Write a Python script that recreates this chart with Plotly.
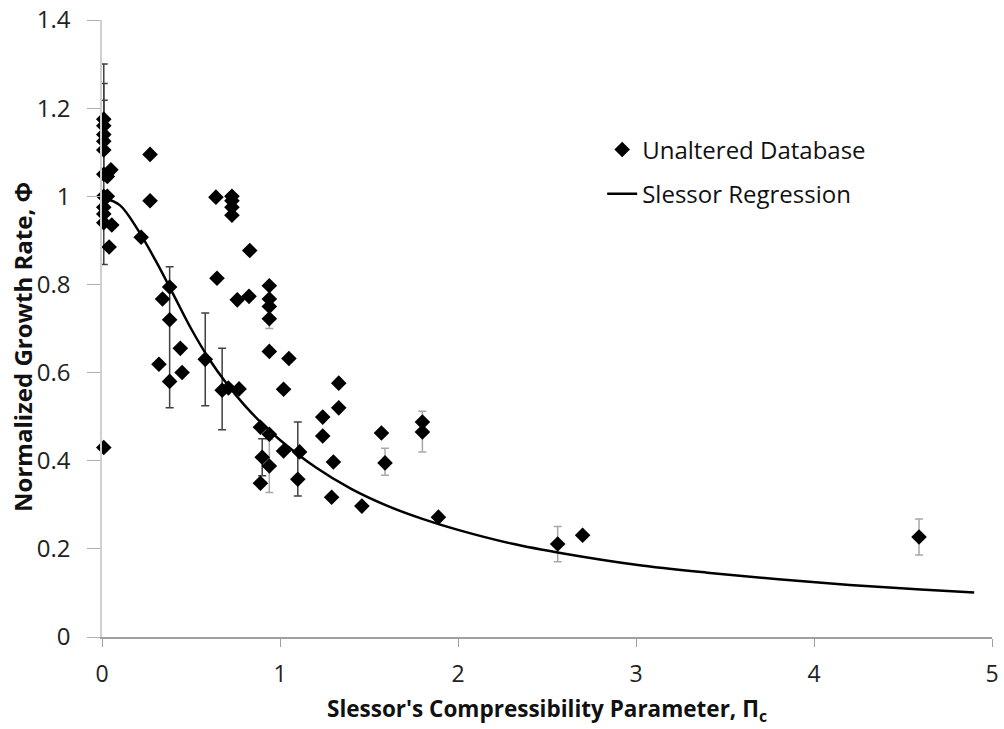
import plotly.graph_objects as go

# Scatter data (Unaltered Database)
pts_x = [0.01, 0.01, 0.01, 0.01, 0.01, 0.01, 0.03, 0.05, 0.01, 0.03, 0.01, 0.01, 0.01, 0.055, 0.04, 0.01,
         0.27, 0.27, 0.22,
         0.38, 0.34, 0.38, 0.32, 0.38, 0.44, 0.45,
         0.58, 0.675, 0.71, 0.77,
         0.64, 0.73, 0.73, 0.73, 0.73,
         0.83, 0.646, 0.76, 0.826,
         0.94, 0.94, 0.94, 0.94, 0.94,
         0.89, 0.94, 0.90, 0.94, 0.89,
         1.02, 1.05, 1.02, 1.11, 1.10,
         1.24, 1.24, 1.33, 1.33, 1.30, 1.29, 1.46,
         1.57, 1.59, 1.80, 1.80, 1.89,
         2.56, 2.70, 4.59]
pts_y = [1.175, 1.16, 1.14, 1.125, 1.105, 1.05, 1.045, 1.06, 1.0, 1.0, 0.975, 0.96, 0.94, 0.935, 0.885, 0.43,
         1.095, 0.99, 0.907,
         0.794, 0.767, 0.72, 0.619, 0.58, 0.655, 0.60,
         0.63, 0.56, 0.565, 0.563,
         0.998, 1.0, 0.99, 0.975, 0.957,
         0.877, 0.814, 0.765, 0.773,
         0.797, 0.767, 0.75, 0.722, 0.648,
         0.476, 0.46, 0.408, 0.388, 0.349,
         0.562, 0.632, 0.422, 0.42, 0.358,
         0.499, 0.456, 0.576, 0.52, 0.397, 0.317, 0.297,
         0.463, 0.395, 0.488, 0.465, 0.272,
         0.211, 0.231, 0.227]

# Error bars drawn in dark grey
eb_dark_x = [0.01, 0.01, 0.01, 0.38, 0.58, 0.675, 0.90, 1.10]
eb_dark_y = [1.05, 1.14, 1.175, 0.72, 0.63, 0.56, 0.408, 0.358]
eb_dark_plus = [0.25, 0.116, 0.043, 0.12, 0.105, 0.095, 0.042, 0.13]
eb_dark_minus = [0.205, 0.10, 0.04, 0.20, 0.105, 0.09, 0.042, 0.038]

# Error bars drawn in light grey
eb_light_x = [0.94, 0.94, 1.59, 1.80, 2.56, 4.59]
eb_light_y = [0.388, 0.722, 0.395, 0.465, 0.211, 0.227]
eb_light_plus = [0.06, 0.0, 0.033, 0.047, 0.04, 0.041]
eb_light_minus = [0.06, 0.022, 0.028, 0.045, 0.04, 0.041]

# Slessor Regression curve
reg_x = [0.02, 0.1, 0.2, 0.3, 0.4, 0.5, 0.6, 0.7, 0.8, 0.9, 1.0, 1.2, 1.4, 1.6, 1.8,
         2.0, 2.3, 2.6, 3.0, 3.4, 3.8, 4.2, 4.6, 4.9]
reg_y = [0.995, 0.98, 0.925, 0.855, 0.778, 0.70, 0.632, 0.575, 0.526, 0.484, 0.447, 0.385,
         0.336, 0.298, 0.268, 0.243, 0.212, 0.189, 0.164, 0.146, 0.131, 0.118, 0.108, 0.101]

# Tick labels
x_ticks = [0, 1, 2, 3, 4, 5]
y_ticks = [0, 0.2, 0.4, 0.6, 0.8, 1.0, 1.2, 1.4]
y_ticklabels = ["0", "0.2", "0.4", "0.6", "0.8", "1", "1.2", "1.4"]

FONT = "Open Sans"

fig = go.Figure()

fig.add_trace(go.Scatter(
    x=eb_light_x, y=eb_light_y, mode="markers",
    marker=dict(size=1, color="rgba(0,0,0,0)"),
    error_y=dict(type="data", symmetric=False, array=eb_light_plus, arrayminus=eb_light_minus,
                 color="#a8a8a8", thickness=1.5, width=4),
    showlegend=False, hoverinfo="skip", cliponaxis=False))

fig.add_trace(go.Scatter(
    x=eb_dark_x, y=eb_dark_y, mode="markers",
    marker=dict(size=1, color="rgba(0,0,0,0)"),
    error_y=dict(type="data", symmetric=False, array=eb_dark_plus, arrayminus=eb_dark_minus,
                 color="#404040", thickness=1.5, width=4),
    showlegend=False, hoverinfo="skip", cliponaxis=False))

fig.add_trace(go.Scatter(
    x=pts_x, y=pts_y, mode="markers", name="Unaltered Database", legendgroup="a",
    marker=dict(symbol="diamond", size=12, color="black"),
    cliponaxis=False))

fig.add_trace(go.Scatter(
    x=reg_x, y=reg_y, mode="lines", name="Slessor Regression", legendgroup="b",
    line=dict(color="black", width=2.5, shape="spline")))

fig.add_annotation(
    text="<b>Normalized Growth Rate, Φ</b>", textangle=-90,
    xref="paper", yref="paper", x=-0.09, y=0.47, xanchor="center", yanchor="middle",
    showarrow=False, font=dict(family=FONT, size=24, color="#111111"))

fig.add_annotation(
    text="<b>Slessor's Compressibility Parameter, Π<sub>c</sub></b>",
    xref="paper", yref="paper", x=0.5, y=-0.118, xanchor="center", yanchor="middle",
    showarrow=False, font=dict(family=FONT, size=22.5, color="#111111"))

fig.update_layout(
    width=1004, height=729,
    margin=dict(l=102, r=12, t=20, b=92),
    paper_bgcolor="white", plot_bgcolor="white",
    font=dict(family=FONT, size=22, color="#222222"),
    legend=dict(x=0.562, y=0.826, xanchor="left", yanchor="top",
                font=dict(family=FONT, size=24, color="#111111"),
                bgcolor="rgba(255,255,255,0)", itemwidth=30, tracegroupgap=10),
    xaxis=dict(range=[0, 5], tickvals=x_ticks, showgrid=False, zeroline=False,
               automargin=False,
               showline=True, linecolor="#a0a0a0", linewidth=1.5,
               ticks="outside", ticklen=8, tickcolor="#a0a0a0", ticklabelstandoff=8,
               tickfont=dict(family=FONT, size=23, color="#222222")),
    yaxis=dict(range=[0, 1.4], tickvals=y_ticks, ticktext=y_ticklabels,
               showgrid=False, zeroline=False, automargin=False,
               showline=True, linecolor="#d0d0d0", linewidth=1.5,
               ticks="outside", ticklen=13, tickcolor="#b0b0b0", ticklabelstandoff=12,
               tickfont=dict(family=FONT, size=24, color="#222222")),
)

fig.write_html("out.html")
